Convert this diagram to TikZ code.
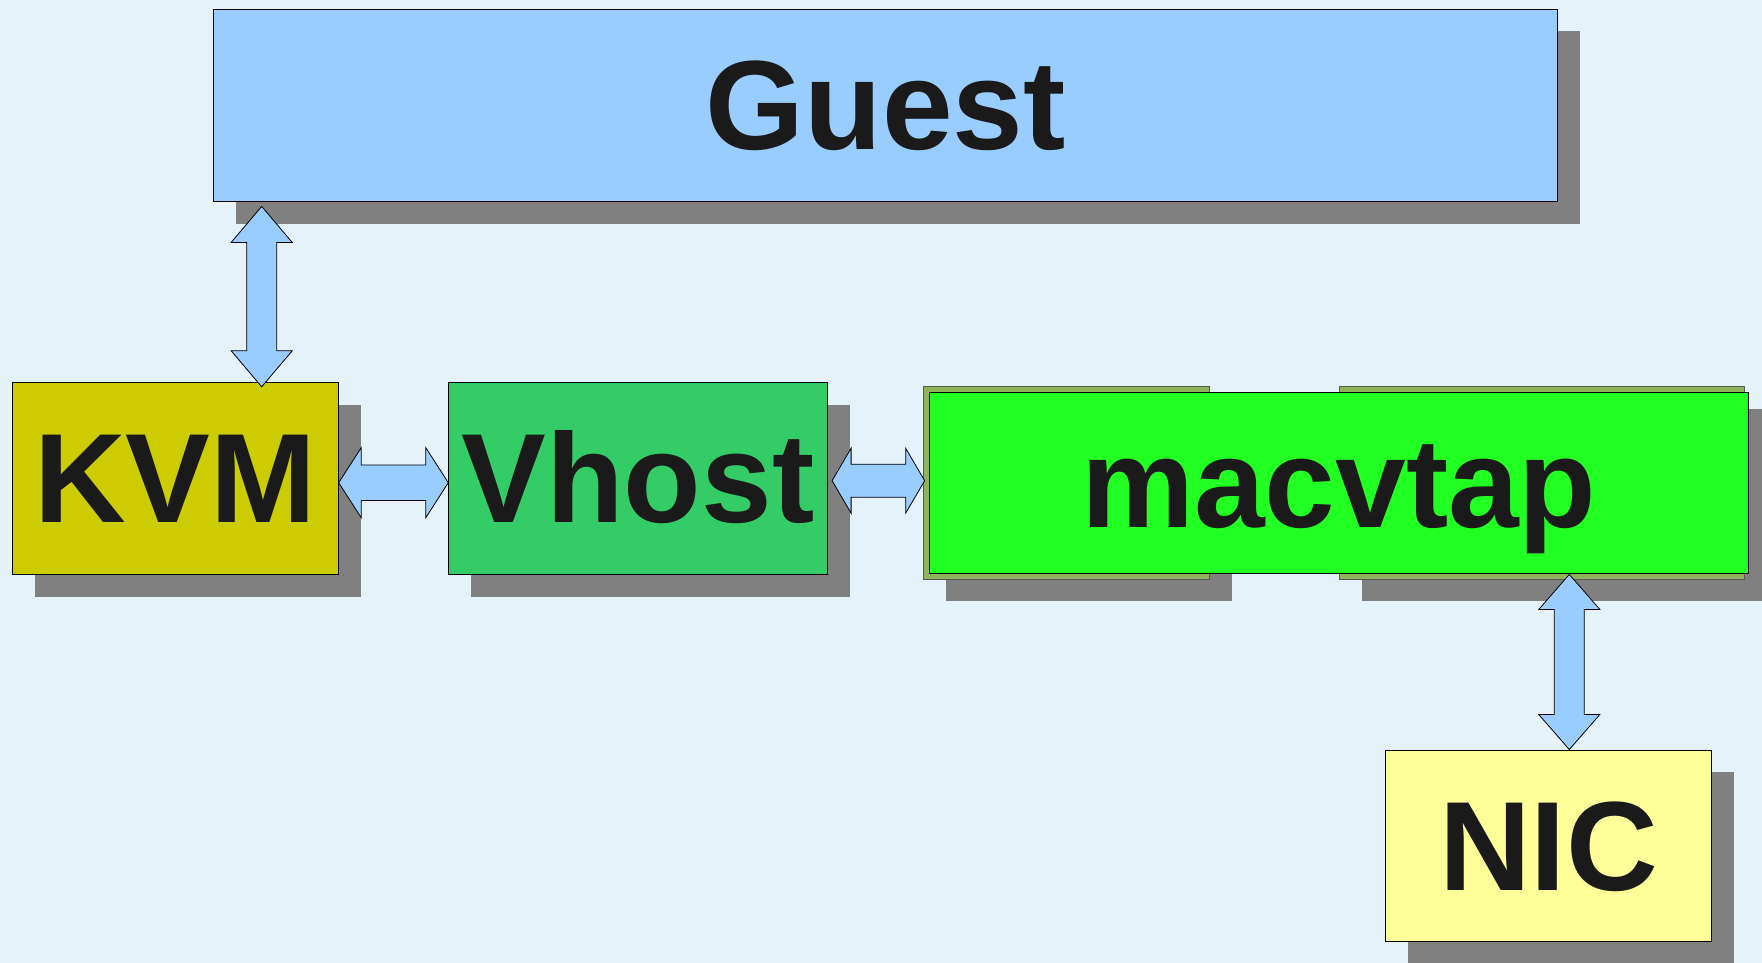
\documentclass[tikz,border=0pt]{standalone}
\usepackage{fontspec}
\setmainfont{Liberation Sans}
\usetikzlibrary{calc,shadows}

\definecolor{bgblue}{HTML}{E6F2FA}
\definecolor{guestblue}{HTML}{99CCFF}
\definecolor{kvmyellow}{HTML}{CCCC00}
\definecolor{vhostgreen}{HTML}{33CC66}
\definecolor{tapgreen}{HTML}{22FF22}
\definecolor{tapolive}{HTML}{8FB35A}
\definecolor{nicyellow}{HTML}{FFFF99}
\definecolor{shadowgray}{HTML}{808080}
\definecolor{textblack}{HTML}{1A1A1A}

\newcommand{\dblarrow}[5]{%
\draw[arrowbox] (#1)
  -- ($(#1)!#5!(#2)!#4!90:(#2)$)
  -- ($(#1)!#5!(#2)!#3!90:(#2)$)
  -- ($(#2)!#5!(#1)!#3!-90:(#1)$)
  -- ($(#2)!#5!(#1)!#4!-90:(#1)$)
  -- (#2)
  -- ($(#2)!#5!(#1)!#4!90:(#1)$)
  -- ($(#2)!#5!(#1)!#3!90:(#1)$)
  -- ($(#1)!#5!(#2)!#3!-90:(#2)$)
  -- ($(#1)!#5!(#2)!#4!-90:(#2)$)
  -- cycle;}

\begin{document}
\begin{tikzpicture}[x=1pt,y=-1pt,
  box/.style={draw=black,line width=0.8pt,inner sep=0pt,
    text height=89pt,text depth=0pt,text=textblack,
    font=\fontsize{127}{127}\selectfont\bfseries},
  shadowed/.style={drop shadow={shadow xshift=22.5pt,shadow yshift=-22.5pt,
    opacity=1,fill=shadowgray}},
  tapback/.style={draw=black!65,line width=0.8pt,fill=tapolive,shadowed},
  arrowbox/.style={draw=black,line width=0.8pt,fill=guestblue,line join=miter}]
\path[use as bounding box,fill=bgblue] (0,0) rectangle (1762,963);

\node[box,shadowed,fill=guestblue,minimum width=1344pt,minimum height=192pt] (guest) at (885.6,105) {Guest};
\node[box,shadowed,fill=kvmyellow,minimum width=326pt,minimum height=192pt] (kvm) at (175.3,478.2) {KVM};
\node[box,shadowed,fill=vhostgreen,minimum width=378.6pt,minimum height=192pt] (vhost) at (638,478) {Vhost};

\node[tapback,minimum width=285.7pt,minimum height=192.3pt] (tapl) at (1066.2,482.8) {};
\node[tapback,minimum width=405pt,minimum height=192.3pt] (tapr) at (1541.5,482.8) {};
\node[box,fill=tapgreen,minimum width=819.4pt,minimum height=180.6pt] (tap) at (1339,483) {macvtap};

\node[box,shadowed,fill=nicyellow,minimum width=326.4pt,minimum height=191.7pt] (nic) at (1548.5,845.8) {NIC};

\coordinate (gk) at ([shift={(48.5,5)}]guest.south west);
\coordinate (kg) at ($(gk |- kvm.north)+(0,5)$);
\coordinate (kv) at ([shift={(0,4.5)}]kvm.east);
\coordinate (vk) at (kv -| vhost.west);
\coordinate (vt) at ([shift={(4.4,2.7)}]vhost.east);
\coordinate (tv) at ($(vt -| tapl.west)+(1.7,0)$);
\coordinate (nt) at ([xshift=20.8pt]nic.north);
\coordinate (tn) at ($(nt |- tap.south)+(0,0.7)$);

\dblarrow{gk}{kg}{15pt}{30.5pt}{36pt}
\dblarrow{kv}{vk}{17.8pt}{35pt}{22.5pt}
\dblarrow{vt}{tv}{16.5pt}{32.5pt}{19pt}
\dblarrow{tn}{nt}{15pt}{30.5pt}{35pt}
\end{tikzpicture}
\end{document}
